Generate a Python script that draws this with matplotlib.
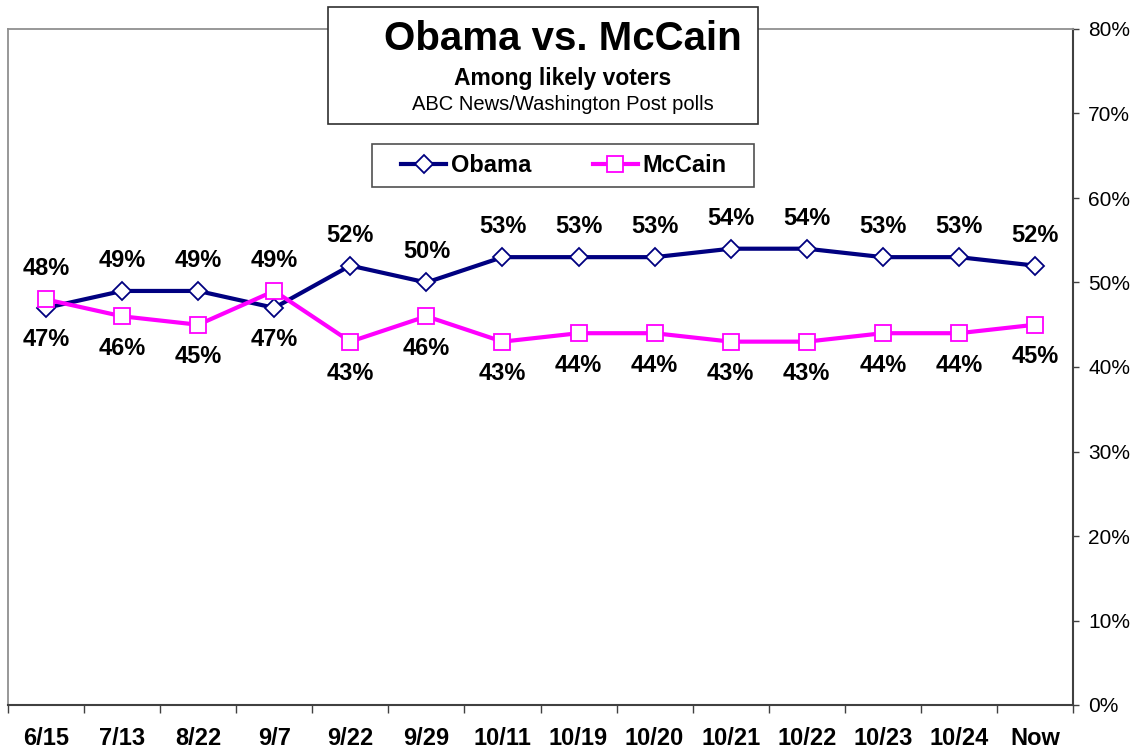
import matplotlib
matplotlib.use("Agg")
import matplotlib.pyplot as plt
from matplotlib.patches import Rectangle

plt.rcParams['font.family'] = ['Liberation Sans', 'DejaVu Sans']

categories = ["6/15", "7/13", "8/22", "9/7", "9/22", "9/29", "10/11", "10/19",
              "10/20", "10/21", "10/22", "10/23", "10/24", "Now"]
obama = [47, 49, 49, 47, 52, 50, 53, 53, 53, 54, 54, 53, 53, 52]
mccain = [48, 46, 45, 49, 43, 46, 43, 44, 44, 43, 43, 44, 44, 45]
yticks = [0, 10, 20, 30, 40, 50, 60, 70, 80]

OBAMA_C = "#000080"
MCCAIN_C = "#FF00FF"

W, H = 1135, 752
fig = plt.figure(figsize=(W / 100, H / 100), dpi=100)
ax = fig.add_axes([8/W, 1-705/H, (1073-8)/W, (705-29)/H])

x = list(range(len(categories)))
l1, = ax.plot(x, obama, color=OBAMA_C, lw=3, marker='D', ms=9, mfc='white',
              mec=OBAMA_C, mew=1.3, zorder=3)
l2, = ax.plot(x, mccain, color=MCCAIN_C, lw=3, marker='s', ms=11.5, mfc='white',
              mec=MCCAIN_C, mew=1.3, zorder=4)

for i in x:
    hi = max(obama[i], mccain[i])
    lo = min(obama[i], mccain[i])
    ax.annotate(f"{hi}%", (i, hi), xytext=(0, 22), textcoords='offset points',
                ha='center', va='center', fontsize=17, fontweight='bold')
    ax.annotate(f"{lo}%", (i, lo), xytext=(0, -23), textcoords='offset points',
                ha='center', va='center', fontsize=17, fontweight='bold')

ax.set_xlim(-0.5, len(categories) - 0.5)
ax.set_ylim(0, 80)
ax.set_xticks([i + 0.5 for i in range(-1, len(categories))], minor=False)
ax.set_xticklabels([])
ax.set_xticks(x, minor=True)
ax.set_xticklabels(categories, minor=True, fontsize=17, fontweight='bold')
ax.tick_params(axis='x', which='major', direction='out', length=6, width=1, color='#404040')
ax.tick_params(axis='x', which='minor', length=0, pad=16)

ax.yaxis.tick_right()
ax.set_yticks(yticks)
ax.set_yticklabels([f"{v}%" for v in yticks], fontsize=15)
ax.tick_params(axis='y', direction='out', length=4, width=1, pad=7, color='#404040')

for s in ['left', 'top']:
    ax.spines[s].set_color('#909090')
    ax.spines[s].set_linewidth(1.3)
for s in ['right', 'bottom']:
    ax.spines[s].set_color('#404040')
    ax.spines[s].set_linewidth(1.5)

def fx(px):
    return px / W
def fy(py):
    return 1 - py / H

# Title box
fig.patches.append(Rectangle((fx(328), fy(124)), fx(758) - fx(328), fy(7) - fy(124),
                             transform=fig.transFigure, facecolor='white',
                             edgecolor='#303030', lw=1.2, zorder=10))
fig.text(fx(563), fy(39), "Obama vs. McCain", ha='center', va='center',
         fontsize=29, fontweight='bold', zorder=11)
fig.text(fx(563), fy(78), "Among likely voters", ha='center', va='center',
         fontsize=16.5, fontweight='bold', zorder=11)
fig.text(fx(563), fy(104), "ABC News/Washington Post polls", ha='center', va='center',
         fontsize=14.5, zorder=11)

# Legend box
fig.patches.append(Rectangle((fx(372), fy(187)), fx(754) - fx(372), fy(144) - fy(187),
                             transform=fig.transFigure, facecolor='white',
                             edgecolor='#505050', lw=1.2, zorder=10))
leg = fig.legend([l1, l2], ["Obama", "McCain"], ncol=2, loc='center',
                 bbox_to_anchor=(fx(564), fy(166)), frameon=False,
                 prop={'size': 17, 'weight': 'bold'}, handlelength=1.9,
                 columnspacing=2.6, handletextpad=0.2, borderpad=0.2)
leg.set_zorder(12)

fig.savefig("out.png", dpi=100)
